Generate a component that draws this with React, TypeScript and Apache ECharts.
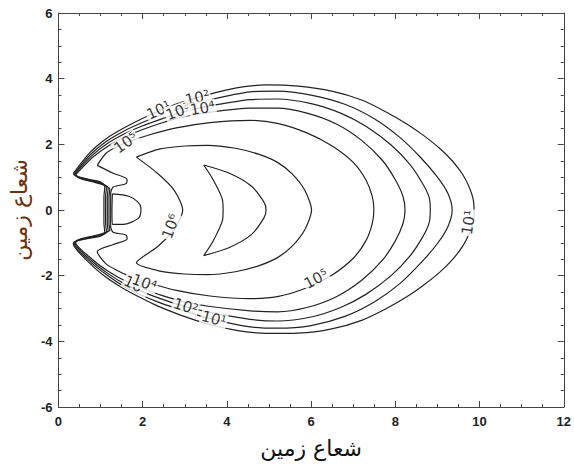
import React, { useEffect, useRef } from "react";
import * as echarts from "echarts";

// Contour levels (electron flux), as [x, y] in Earth radii
const level1 = [
  [0.35, 1.11], [0.74, 1.74], [1.13, 2.17], [1.53, 2.48], [1.92, 2.74], [2.35, 3.0], [2.9, 3.27], [3.57, 3.52], [4.2, 3.71], [4.93, 3.81], [5.7, 3.77], [6.49, 3.62], [7.2, 3.35], [7.79, 2.98], [8.3, 2.6], [8.66, 2.28], [9.05, 1.88], [9.35, 1.5], [9.6, 1.08], [9.76, 0.68], [9.85, 0.32], [9.87, 0],
  [9.85, -0.33], [9.76, -0.7], [9.6, -1.1], [9.35, -1.52], [9.05, -1.9], [8.66, -2.3], [8.3, -2.62], [7.79, -3.0], [7.2, -3.36], [6.49, -3.62], [5.7, -3.75], [4.93, -3.76], [4.2, -3.66], [3.57, -3.48], [2.9, -3.2], [2.35, -2.92], [1.92, -2.65], [1.53, -2.38], [1.13, -2.05], [0.74, -1.62], [0.35, -1.02],
  [0.42, -0.95], [0.74, -0.86], [1.0, -0.8], [1.1, -0.68], [1.08, -0.4], [1.08, 0], [1.08, 0.4], [1.1, 0.7], [1.0, 0.85], [0.74, 0.93], [0.42, 1.03], [0.35, 1.11],
];
const level2 = [
  [0.37, 1.1], [0.76, 1.69], [1.15, 2.1], [1.55, 2.4], [1.95, 2.64], [2.4, 2.88], [2.95, 3.12], [3.57, 3.35], [4.55, 3.6], [5.2, 3.62], [6.0, 3.5], [6.8, 3.22], [7.5, 2.78], [8.1, 2.22], [8.6, 1.6], [9.0, 1.0], [9.25, 0.5], [9.35, 0],
  [9.25, -0.5], [9.0, -1.02], [8.6, -1.62], [8.1, -2.25], [7.5, -2.8], [6.8, -3.24], [6.0, -3.52], [5.2, -3.6], [4.55, -3.56], [3.57, -3.3], [2.95, -3.06], [2.4, -2.82], [1.95, -2.58], [1.55, -2.32], [1.15, -1.98], [0.76, -1.58], [0.37, -1.01],
  [0.45, -0.93], [0.76, -0.84], [1.02, -0.77], [1.14, -0.66], [1.12, -0.4], [1.12, 0], [1.12, 0.4], [1.14, 0.68], [1.02, 0.83], [0.76, 0.9], [0.45, 1.01], [0.37, 1.1],
];
const level3 = [
  [0.39, 1.09], [0.78, 1.64], [1.17, 2.03], [1.57, 2.32], [1.97, 2.55], [2.42, 2.76], [3.0, 3.0], [3.6, 3.17], [4.55, 3.36], [5.2, 3.38], [6.0, 3.24], [6.7, 2.95], [7.3, 2.55], [7.9, 1.98], [8.35, 1.38], [8.65, 0.8], [8.8, 0.4], [8.83, 0],
  [8.8, -0.4], [8.65, -0.82], [8.35, -1.4], [7.9, -2.0], [7.3, -2.57], [6.7, -2.97], [6.0, -3.26], [5.2, -3.38], [4.55, -3.33], [3.6, -3.12], [3.0, -2.94], [2.42, -2.7], [1.97, -2.48], [1.57, -2.25], [1.17, -1.93], [0.78, -1.54], [0.39, -1.0],
  [0.48, -0.91], [0.78, -0.82], [1.04, -0.74], [1.18, -0.64], [1.16, -0.4], [1.16, 0], [1.16, 0.4], [1.18, 0.66], [1.04, 0.8], [0.78, 0.88], [0.48, 0.99], [0.39, 1.09],
];
const level4 = [
  [0.41, 1.08], [0.8, 1.59], [1.19, 1.96], [1.6, 2.24], [2.0, 2.45], [2.45, 2.65], [3.0, 2.85], [3.6, 2.98], [4.55, 3.1], [5.2, 3.1], [5.9, 2.95], [6.6, 2.62], [7.2, 2.12], [7.7, 1.5], [8.0, 0.92], [8.18, 0.42], [8.23, 0],
  [8.18, -0.42], [8.0, -0.94], [7.7, -1.52], [7.2, -2.14], [6.6, -2.64], [5.9, -2.97], [5.2, -3.1], [4.55, -3.07], [3.6, -2.94], [3.0, -2.8], [2.45, -2.6], [2.0, -2.39], [1.6, -2.17], [1.19, -1.87], [0.8, -1.5], [0.41, -0.99],
  [0.5, -0.89], [0.8, -0.8], [1.06, -0.71], [1.22, -0.62], [1.2, -0.4], [1.2, 0], [1.2, 0.4], [1.22, 0.64], [1.06, 0.77], [0.8, 0.86], [0.5, 0.97], [0.41, 1.08],
];
const level5 = [
  [0.92, 1.36], [1.13, 1.73], [1.41, 1.94], [1.6, 2.05], [2.11, 2.27], [2.8, 2.5], [3.6, 2.66], [4.55, 2.73], [5.2, 2.64], [5.9, 2.35], [6.5, 1.95], [7.0, 1.45], [7.3, 0.92], [7.45, 0.42], [7.49, 0],
  [7.45, -0.42], [7.3, -0.94], [7.0, -1.47], [6.5, -1.98], [5.9, -2.37], [5.2, -2.64], [4.55, -2.7], [3.6, -2.62], [2.8, -2.45], [2.11, -2.2], [1.6, -1.97], [1.41, -1.85], [1.13, -1.64], [0.92, -1.27],
  [1.3, -1.05], [1.63, -0.88], [1.6, -0.76], [1.3, -0.68], [1.24, -0.5], [1.24, 0], [1.24, 0.5], [1.3, 0.7], [1.6, 0.8], [1.63, 0.93], [1.3, 1.12], [0.92, 1.36],
];
const level6Outer = [
  [1.85, 1.61], [2.41, 1.86], [3.0, 1.95], [3.54, 1.97], [4.2, 1.88], [4.75, 1.7], [5.2, 1.45], [5.55, 1.1], [5.85, 0.6], [6.01, 0],
  [5.85, -0.6], [5.55, -1.1], [5.2, -1.45], [4.75, -1.7], [4.2, -1.88], [3.54, -1.97], [3.0, -1.95], [2.41, -1.86], [1.85, -1.61],
  [2.35, -1.12], [2.75, -0.6], [2.95, 0], [2.75, 0.6], [2.35, 1.12], [1.85, 1.61],
];
const level6Inner = [
  [1.28, 0.49], [1.67, 0.42], [1.89, 0.24], [1.96, 0.05], [1.91, -0.24], [1.54, -0.44], [1.28, -0.44], [1.27, 0], [1.28, 0.49],
];
const level7 = [
  [3.45, 1.37], [4.06, 1.12], [4.58, 0.73], [4.88, 0.24], [4.93, 0], [4.88, -0.24], [4.58, -0.75], [4.06, -1.14], [3.45, -1.39],
  [3.67, -0.95], [3.89, -0.34], [3.91, 0], [3.89, 0.34], [3.67, 0.93], [3.45, 1.37],
];

const contours = [level1, level2, level3, level4, level5, level6Outer, level6Inner, level7];

// Inline contour labels: [x, y, text, angle]
const contourLabels: [number, number, string, number][] = [
  [2.38, 3.04, "10¹", 25],
  [2.84, 3.0, "10³", 20],
  [3.3, 3.42, "10²", 12],
  [3.42, 3.1, "10⁴", 10],
  [1.6, 2.05, "10⁵", 35],
  [9.74, -0.38, "10¹", 82],
  [2.67, -0.5, "10⁶", 70],
  [6.12, -2.1, "10⁵", 28],
  [1.84, -2.3, "10³", -26],
  [2.04, -2.22, "10⁴", -20],
  [3.02, -2.94, "10²", -18],
  [3.69, -3.32, "10¹", -15],
];

const axisTitle = "شعاع زمین";

export default function App() {
  const ref = useRef<HTMLDivElement>(null);
  useEffect(() => {
    const chart = echarts.init(ref.current!, null, { renderer: "svg" });
    const axisCommon = {
      type: "value",
      interval: 2,
      axisLine: { show: true, onZero: false, lineStyle: { color: "#444", width: 1 } },
      axisTick: { show: true, inside: true, length: 6, lineStyle: { color: "#444" } },
      minorTick: { show: true, splitNumber: 4, length: 3, lineStyle: { color: "#444" } },
      splitLine: { show: false },
    };
    const labelStyle = { fontFamily: "Liberation Sans", fontSize: 13, fontWeight: "bold", color: "#222" };
    chart.setOption({
      animation: false,
      backgroundColor: "#fff",
      grid: { left: 57, right: 8, top: 13, bottom: 39 },
      xAxis: [
        {
          ...axisCommon, min: 0, max: 12, position: "bottom",
          axisLabel: { ...labelStyle, margin: 8 },
          name: axisTitle, nameLocation: "middle", nameGap: 30,
          nameTextStyle: { fontFamily: "DejaVu Sans", fontSize: 22, color: "#111" },
        },
        { ...axisCommon, min: 0, max: 12, position: "top", axisLabel: { show: false } },
      ],
      yAxis: [
        {
          ...axisCommon, min: -6, max: 6, position: "left",
          axisLabel: { ...labelStyle, margin: 6 },
          name: axisTitle, nameLocation: "middle", nameGap: 28, nameRotate: 90,
          nameTextStyle: { fontFamily: "DejaVu Sans", fontSize: 22, color: "#6b3210" },
        },
        { ...axisCommon, min: -6, max: 6, position: "right", axisLabel: { show: false } },
      ],
      series: [
        ...contours.map((pts) => ({
          type: "line",
          data: pts,
          showSymbol: false,
          symbol: "none",
          smooth: 0.25,
          lineStyle: { color: "#222", width: 1.2 },
          z: 2,
        })),
        {
          type: "scatter",
          symbolSize: 0,
          z: 10,
          data: contourLabels.map(([x, y, t, a]) => ({
            value: [x, y],
            name: t,
            label: { rotate: a },
          })),
          label: {
            show: true,
            position: "inside",
            formatter: "{b}",
            fontFamily: "DejaVu Sans",
            fontSize: 15,
            color: "#000",
            backgroundColor: "#fff",
            padding: [0, 1],
          },
        },
      ],
    });
    return () => chart.dispose();
  }, []);
  return (
    <div
      ref={ref}
      style={{ position: "fixed", left: 0, top: 0, width: 574, height: 464, background: "#fff" }}
    />
  );
}
